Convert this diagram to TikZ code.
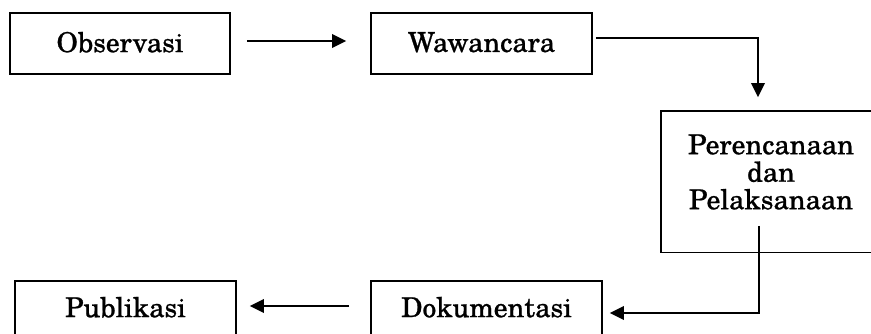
\documentclass[tikz,border=0pt]{standalone}
\usepackage{fontspec}
\setmainfont{TeX Gyre Schola}[RawFeature={embolden=0.8}]
\usetikzlibrary{arrows.meta}
\begin{document}
\begin{tikzpicture}[x=1pt,y=-1pt,
  box/.style={draw, line width=1.6pt, inner sep=0pt, minimum height=61pt, font=\fontsize{27.5}{27}\selectfont},
  lbl/.style={inner sep=0pt, align=center, font=\fontsize{27.5}{27.5}\selectfont},
  conn/.style={line width=1.9pt, -{Triangle[length=14pt,width=13.5pt]}}]
\useasboundingbox (0,0) rectangle (871,334);
\node[box, minimum width=220pt, text depth=3pt] (obs) at (120,43.5) {Observasi};
\node[box, minimum width=221pt, text depth=3pt] (waw) at (481.5,43.5) {Wawancara};
\node[box, minimum width=220pt, minimum height=141.5pt] (per) at (771,181.75) {};
\node[lbl] (pertext) at (771,172) {Perencanaan\\dan\\Pelaksanaan};
\node[box, minimum width=231pt, text depth=9pt] (dok) at (486.5,311.5) {Dokumentasi};
\node[box, minimum width=221pt, text depth=9pt] (pub) at (125.5,311.5) {Publikasi};
\draw[conn] ([xshift=16pt,yshift=2.5pt]obs.east) -- ([xshift=-24pt,yshift=2.5pt]waw.west);
\draw[conn] ([xshift=3pt,yshift=5.5pt]waw.east) -| ([xshift=-13pt,yshift=13pt]per.north);
\draw[conn] ([xshift=-12pt,yshift=27.5pt]per.south) |- ([xshift=7pt,yshift=-1.5pt]dok.east);
\draw[conn] ([xshift=-21pt,yshift=5.5pt]dok.west) -- ([xshift=13pt,yshift=5.5pt]pub.east);
\end{tikzpicture}
\end{document}
